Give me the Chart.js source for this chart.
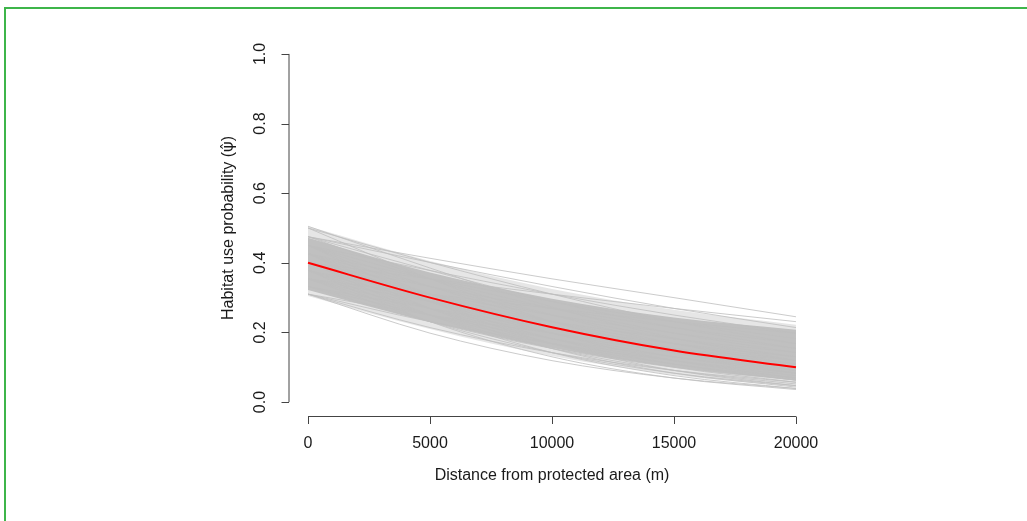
<!DOCTYPE html>
<html lang="en-US">
<head>
<meta charset="UTF-8">
<title>Habitat use probability</title>
<script src="https://cdn.jsdelivr.net/npm/chart.js@4.4.1/dist/chart.umd.min.js"></script>
<style>
    html, body { margin: 0; padding: 0; background: #fff; }
    #frame {
        position: absolute; left: 4px; top: 7px; width: 1040px; height: 540px;
        border-top: 2px solid #3db54a; border-left: 2px solid #3db54a;
    }
    #wrap { position: absolute; left: 0; top: 0; width: 1027px; height: 521px; }
</style>
</head>
<body>
<div id="frame"></div>
<div id="wrap"><canvas id="myChart"></canvas></div>

<script>
    var distances = [0, 5000, 10000, 15000, 20000];
    var xTicks = [0, 5000, 10000, 15000, 20000];
    var yTicks = [0.0, 0.2, 0.4, 0.6, 0.8, 1.0];

    // mean curve (red)
    var meanCurve = [0.400, 0.300, 0.215, 0.148, 0.100];

    // dense part of the posterior band
    var bandUpper = [0.472, 0.372, 0.297, 0.243, 0.208];
    var bandLower = [0.322, 0.230, 0.155, 0.100, 0.062];
    // faint outer fringe of the band
    var fringeUpper = [0.505, 0.405, 0.325, 0.265, 0.222];
    var fringeLower = [0.305, 0.210, 0.132, 0.078, 0.044];

    // individual posterior draws (grey)
    var draws = [
        [0.475, 0.413, 0.354, 0.300, 0.245],
        [0.500, 0.401, 0.310, 0.231, 0.168],
        [0.505, 0.385, 0.273, 0.184, 0.119],
        [0.450, 0.378, 0.310, 0.250, 0.198],
        [0.475, 0.354, 0.250, 0.168, 0.109],
        [0.450, 0.310, 0.198, 0.119, 0.069],
        [0.426, 0.354, 0.289, 0.231, 0.182],
        [0.426, 0.310, 0.214, 0.142, 0.091],
        [0.426, 0.269, 0.154, 0.083, 0.043],
        [0.401, 0.332, 0.269, 0.214, 0.168],
        [0.401, 0.310, 0.231, 0.168, 0.119],
        [0.401, 0.289, 0.198, 0.130, 0.083],
        [0.401, 0.269, 0.168, 0.100, 0.057],
        [0.378, 0.310, 0.250, 0.198, 0.154],
        [0.378, 0.289, 0.214, 0.154, 0.109],
        [0.378, 0.269, 0.182, 0.119, 0.076],
        [0.378, 0.250, 0.154, 0.091, 0.052],
        [0.354, 0.289, 0.231, 0.182, 0.142],
        [0.354, 0.269, 0.198, 0.142, 0.100],
        [0.354, 0.250, 0.168, 0.109, 0.069],
        [0.354, 0.231, 0.142, 0.083, 0.047],
        [0.332, 0.250, 0.182, 0.130, 0.091],
        [0.332, 0.231, 0.154, 0.100, 0.063],
        [0.332, 0.269, 0.214, 0.168, 0.130],
        [0.310, 0.231, 0.168, 0.119, 0.083],
        [0.310, 0.198, 0.119, 0.069, 0.039],
        [0.310, 0.250, 0.198, 0.154, 0.119],
        [0.450, 0.354, 0.269, 0.198, 0.142],
        [0.450, 0.332, 0.231, 0.154, 0.100],
        [0.475, 0.378, 0.289, 0.214, 0.154],
        [0.426, 0.332, 0.250, 0.182, 0.130],
        [0.426, 0.289, 0.182, 0.109, 0.063],
        [0.378, 0.231, 0.130, 0.069, 0.036],
        [0.401, 0.250, 0.142, 0.076, 0.039],
        [0.450, 0.289, 0.168, 0.091, 0.047],
        [0.354, 0.310, 0.269, 0.231, 0.198],
        [0.500, 0.354, 0.231, 0.142, 0.083],
        [0.475, 0.401, 0.332, 0.269, 0.214],
        [0.401, 0.354, 0.310, 0.269, 0.231],
        [0.310, 0.214, 0.142, 0.091, 0.057]
    ];

    var xTitle = 'Distance from protected area (m)';
    var yTitleText = 'Habitat use probability (';
    var yTitleSymbol = '\u03C8\u0302';
    var yTitleEnd = ')';

    function toPoints(values) {
        return values.map(function (v, i) { return { x: distances[i], y: v }; });
    }

    function bandPair(upper, lower, colour, order) {
        return [{
            data: toPoints(upper), borderColor: 'rgba(0,0,0,0)', borderWidth: 0,
            backgroundColor: colour, pointRadius: 0,
            cubicInterpolationMode: 'monotone', order: order, fill: '+1'
        }, {
            data: toPoints(lower), borderColor: 'rgba(0,0,0,0)', borderWidth: 0,
            pointRadius: 0, cubicInterpolationMode: 'monotone', order: order, fill: false
        }];
    }

    var datasets = [];
    datasets.push({
        data: toPoints(meanCurve), borderColor: '#ff0000', borderWidth: 2,
        pointRadius: 0, cubicInterpolationMode: 'monotone', order: 0, fill: false
    });
    for (var i = 0; i < draws.length; i++) {
        datasets.push({
            data: toPoints(draws[i]), borderColor: 'rgba(190,190,190,0.8)', borderWidth: 1,
            pointRadius: 0, cubicInterpolationMode: 'monotone', order: 1, fill: false
        });
    }
    datasets = datasets.concat(bandPair(bandUpper, bandLower, 'rgb(192,192,192)', 2));
    datasets = datasets.concat(bandPair(fringeUpper, fringeLower, 'rgba(200,200,200,0.45)', 3));

    // R-style axes: lines only across the tick range, outward ticks
    var rAxes = {
        id: 'rAxes',
        afterDraw: function (chart) {
            var ctx = chart.ctx, xs = chart.scales.x, ys = chart.scales.y;
            var left = chart.chartArea.left, bottom = chart.chartArea.bottom;
            var font = '16px "Liberation Sans", Arial, sans-serif';
            ctx.save();
            ctx.strokeStyle = '#444';
            ctx.lineWidth = 1;
            ctx.fillStyle = '#1a1a1a';
            ctx.font = font;

            // y axis
            var y0 = ys.getPixelForValue(yTicks[0]), y1 = ys.getPixelForValue(yTicks[yTicks.length - 1]);
            ctx.beginPath();
            ctx.moveTo(left + 0.5, y0); ctx.lineTo(left + 0.5, y1);
            yTicks.forEach(function (t) {
                var py = Math.round(ys.getPixelForValue(t)) + 0.5;
                ctx.moveTo(left + 0.5, py); ctx.lineTo(left - 7, py);
            });
            ctx.stroke();
            ctx.textAlign = 'center';
            ctx.textBaseline = 'middle';
            yTicks.forEach(function (t) {
                ctx.save();
                ctx.translate(left - 28, ys.getPixelForValue(t));
                ctx.rotate(-Math.PI / 2);
                ctx.fillText(t.toFixed(1), 0, 0);
                ctx.restore();
            });

            // y title, psi with hat set in DejaVu Sans
            var symFont = '16px "DejaVu Sans", sans-serif';
            var w1 = ctx.measureText(yTitleText).width;
            var w3 = ctx.measureText(yTitleEnd).width;
            ctx.font = symFont;
            var w2 = ctx.measureText(yTitleSymbol).width;
            var total = w1 + w2 + w3;
            ctx.save();
            ctx.translate(left - 60, (y0 + y1) / 2);
            ctx.rotate(-Math.PI / 2);
            ctx.textAlign = 'left';
            ctx.font = font;
            ctx.fillText(yTitleText, -total / 2, 0);
            ctx.font = symFont;
            ctx.fillText(yTitleSymbol, -total / 2 + w1, 0);
            ctx.font = font;
            ctx.fillText(yTitleEnd, -total / 2 + w1 + w2, 0);
            ctx.restore();
            ctx.textAlign = 'center';
            ctx.font = font;

            // x axis
            var x0 = xs.getPixelForValue(xTicks[0]), x1 = xs.getPixelForValue(xTicks[xTicks.length - 1]);
            ctx.beginPath();
            ctx.moveTo(x0, bottom + 0.5); ctx.lineTo(x1, bottom + 0.5);
            xTicks.forEach(function (t) {
                var px = Math.round(xs.getPixelForValue(t)) + 0.5;
                ctx.moveTo(px, bottom + 0.5); ctx.lineTo(px, bottom + 8);
            });
            ctx.stroke();
            xTicks.forEach(function (t) {
                ctx.fillText(String(t), xs.getPixelForValue(t), bottom + 28);
            });
            ctx.fillText(xTitle, (x0 + x1) / 2, bottom + 60);
            ctx.restore();
        }
    };

    var ctx = document.getElementById('myChart').getContext('2d');
    var myChart = new Chart(ctx, {
        type: 'line',
        data: { datasets: datasets },
        options: {
            responsive: true,
            maintainAspectRatio: false,
            animation: false,
            layout: { padding: { left: 288.5, right: 211.5, top: 40, bottom: 105 } },
            plugins: { legend: { display: false }, tooltip: { enabled: false } },
            scales: {
                x: { type: 'linear', min: -800, max: 20800, display: false },
                y: { type: 'linear', min: -0.04, max: 1.04, display: false }
            }
        },
        plugins: [rAxes]
    });
</script>
</body>
</html>
